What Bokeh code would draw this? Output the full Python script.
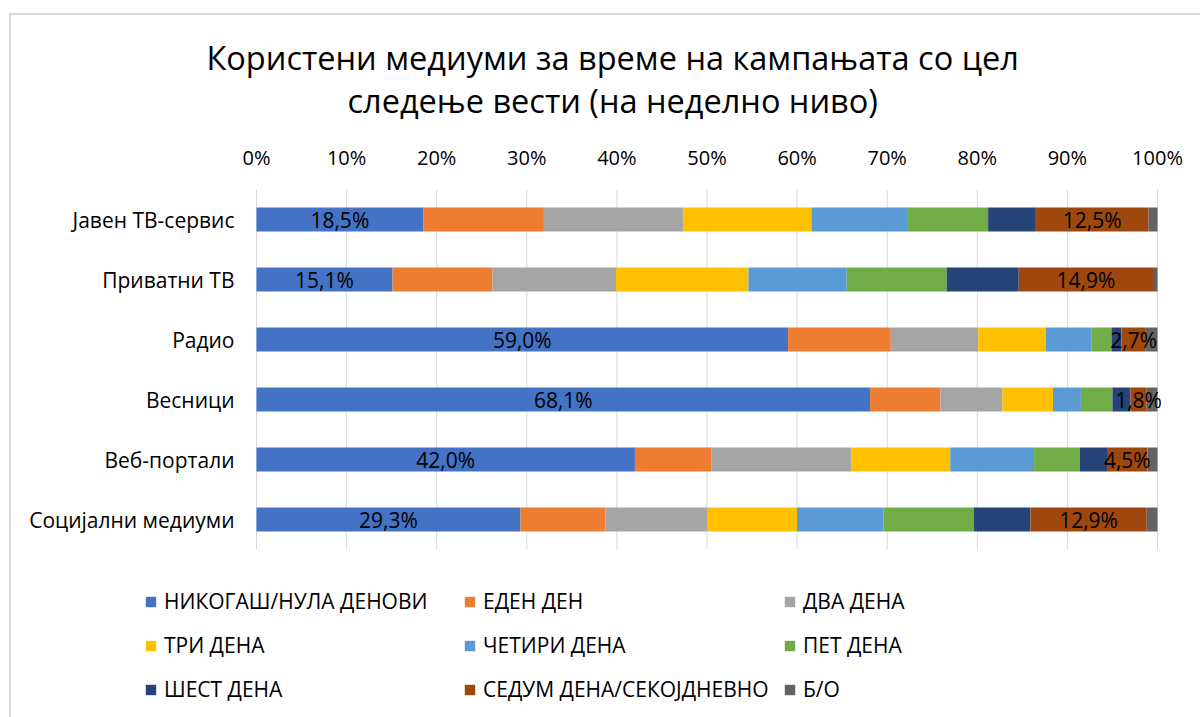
from bokeh.plotting import figure
from bokeh.models import (Range1d, FixedTicker, Legend, LegendItem, LabelSet,
                          ColumnDataSource, Title, InlineStyleSheet)
from bokeh.core.properties import value
from bokeh.embed import file_html
from bokeh.resources import INLINE

categories = ["Јавен ТВ-сервис", "Приватни ТВ", "Радио", "Весници", "Веб-портали", "Социјални медиуми"]
series_names = ["НИКОГАШ/НУЛА ДЕНОВИ", "ЕДЕН ДЕН", "ДВА ДЕНА", "ТРИ ДЕНА", "ЧЕТИРИ ДЕНА",
                "ПЕТ ДЕНА", "ШЕСТ ДЕНА", "СЕДУМ ДЕНА/СЕКОЈДНЕВНО", "Б/О"]
nikogas = [18.5, 15.1, 59.0, 68.1, 42.0, 29.3]
eden = [13.4, 11.1, 11.4, 7.8, 8.5, 9.4]
dva = [15.5, 13.7, 9.7, 6.9, 15.5, 11.3]
tri = [14.2, 14.7, 7.5, 5.6, 11.0, 10.0]
cetiri = [10.7, 10.9, 5.1, 3.1, 9.3, 9.6]
pet = [8.9, 11.1, 2.2, 3.5, 5.1, 10.0]
sest = [5.3, 8.0, 1.1, 2.0, 3.0, 6.3]
sedum = [12.5, 14.9, 2.7, 1.8, 4.5, 12.9]
bo = [1.0, 0.5, 1.3, 1.2, 1.1, 1.2]
tick_values = [0, 10, 20, 30, 40, 50, 60, 70, 80, 90, 100]
tick_labels = ["0%", "10%", "20%", "30%", "40%", "50%", "60%", "70%", "80%", "90%", "100%"]
title_lines = ["Користени медиуми за време на кампањата со цел", "следење вести (на неделно ниво)"]

colors = ["#4472C4", "#ED7D31", "#A5A5A5", "#FFC000", "#5B9BD5", "#70AD47", "#264478", "#9E480E", "#636363"]
FONT = "Open Sans"
TXT = "#000000"

# layout constants (pixels)
W, H = 1200, 717
X0, X100 = 256, 1157          # pixel position of 0% and 100%
TOP = 189                      # top of the bar area
PITCH = 60                     # pixels per category band
px = (X100 - X0) / 100.0       # pixels per percent

series = [nikogas, eden, dva, tri, cetiri, pet, sest, sedum, bo]
keys = ["s%d" % i for i in range(len(series))]
n = len(categories)
ypos = [n - 1 - i for i in range(n)]
data = {"y": ypos}
for k, s in zip(keys, series):
    data[k] = s
source = ColumnDataSource(data)

y_top = n - 0.5
y_bot = y_top - (H - TOP) / PITCH
p = figure(width=W, height=H, output_backend="svg", toolbar_location=None,
           x_range=Range1d(-X0 / px, 100 + (W - X100) / px),
           y_range=Range1d(y_bot, y_top),
           x_axis_location="above", y_axis_location=None,
           min_border_left=0, min_border_right=0, min_border_top=TOP, min_border_bottom=0)
p.outline_line_color = None
p.background_fill_color = "white"
p.border_fill_color = "white"
p.xgrid.visible = False
p.ygrid.visible = False

# vertical grid lines over the bar area
p.segment(x0=tick_values, x1=tick_values, y0=[-0.5] * len(tick_values),
          y1=[y_top] * len(tick_values), line_color="#d9d9d9", line_width=1)

renderers = p.hbar_stack(keys, y="y", height=0.4, color=colors, line_color=None, source=source)

# x axis (above)
ax = p.xaxis[0]
ax.ticker = FixedTicker(ticks=tick_values)
ax.major_label_overrides = {v: l for v, l in zip(tick_values, tick_labels)}
ax.axis_line_color = None
ax.major_tick_line_color = None
ax.minor_tick_line_color = None
ax.major_label_text_font = FONT
ax.major_label_text_color = TXT
ax.major_label_text_font_size = "20px"
ax.major_label_standoff = 13

# category labels
p.text(x=[(234 - X0) / px] * n, y=ypos, text=categories, text_align="right",
       text_baseline="middle", text_font=value(FONT), text_font_size="21px", text_color=TXT)

# data labels (first and eighth series)
lab_x, lab_y, lab_t = [], [], []
for i in range(n):
    cum = 0.0
    for j, s in enumerate(series):
        if j in (0, 7):
            lab_x.append(cum + s[i] / 2)
            lab_y.append(ypos[i])
            lab_t.append(("%.1f%%" % s[i]).replace(".", ","))
        cum += s[i]
lsrc = ColumnDataSource(dict(x=lab_x, y=lab_y, t=lab_t))
p.add_layout(LabelSet(x="x", y="y", text="t", source=lsrc, text_align="center",
                      text_baseline="middle", text_font=value(FONT), text_font_size="21px",
                      text_color=TXT))

# title (two lines), stacked above the axis
p.add_layout(Title(text=" ", text_font_size="1px", standoff=19), "above")
p.add_layout(Title(text=title_lines[1], align="left", offset=347, text_font=FONT,
                   text_font_size="32.5px", text_font_style="normal", text_color=TXT,
                   standoff=-8), "above")
p.title.text = title_lines[0]
p.title.align = "left"
p.title.offset = 206
p.title.text_font = FONT
p.title.text_font_size = "32.5px"
p.title.text_font_style = "normal"
p.title.text_color = TXT
p.title.standoff = 0

# legend: three columns of three items
col_x = [144, 463, 783]
for col in range(3):
    items = [LegendItem(label=series_names[r * 3 + col], renderers=[renderers[r * 3 + col]])
             for r in range(3)]
    leg = Legend(items=items, location=(col_x[col], 13), orientation="vertical",
                 glyph_width=13, glyph_height=13, label_height=30, spacing=14,
                 label_standoff=7, padding=0, margin=0, border_line_color=None,
                 background_fill_alpha=0, label_text_font=FONT, label_text_font_size="21px",
                 label_text_color=TXT)
    p.add_layout(leg, "center")

# chart-area border (left and top edges)
p.stylesheets = [InlineStyleSheet(css=":host::after { content: ''; position: absolute; "
                                      "left: 9px; top: 13px; right: 0; bottom: 0; "
                                      "border-left: 2px solid #d9d9d9; border-top: 2px solid #d9d9d9; "
                                      "pointer-events: none; }")]

open("out.html", "w").write(file_html(p, INLINE))
